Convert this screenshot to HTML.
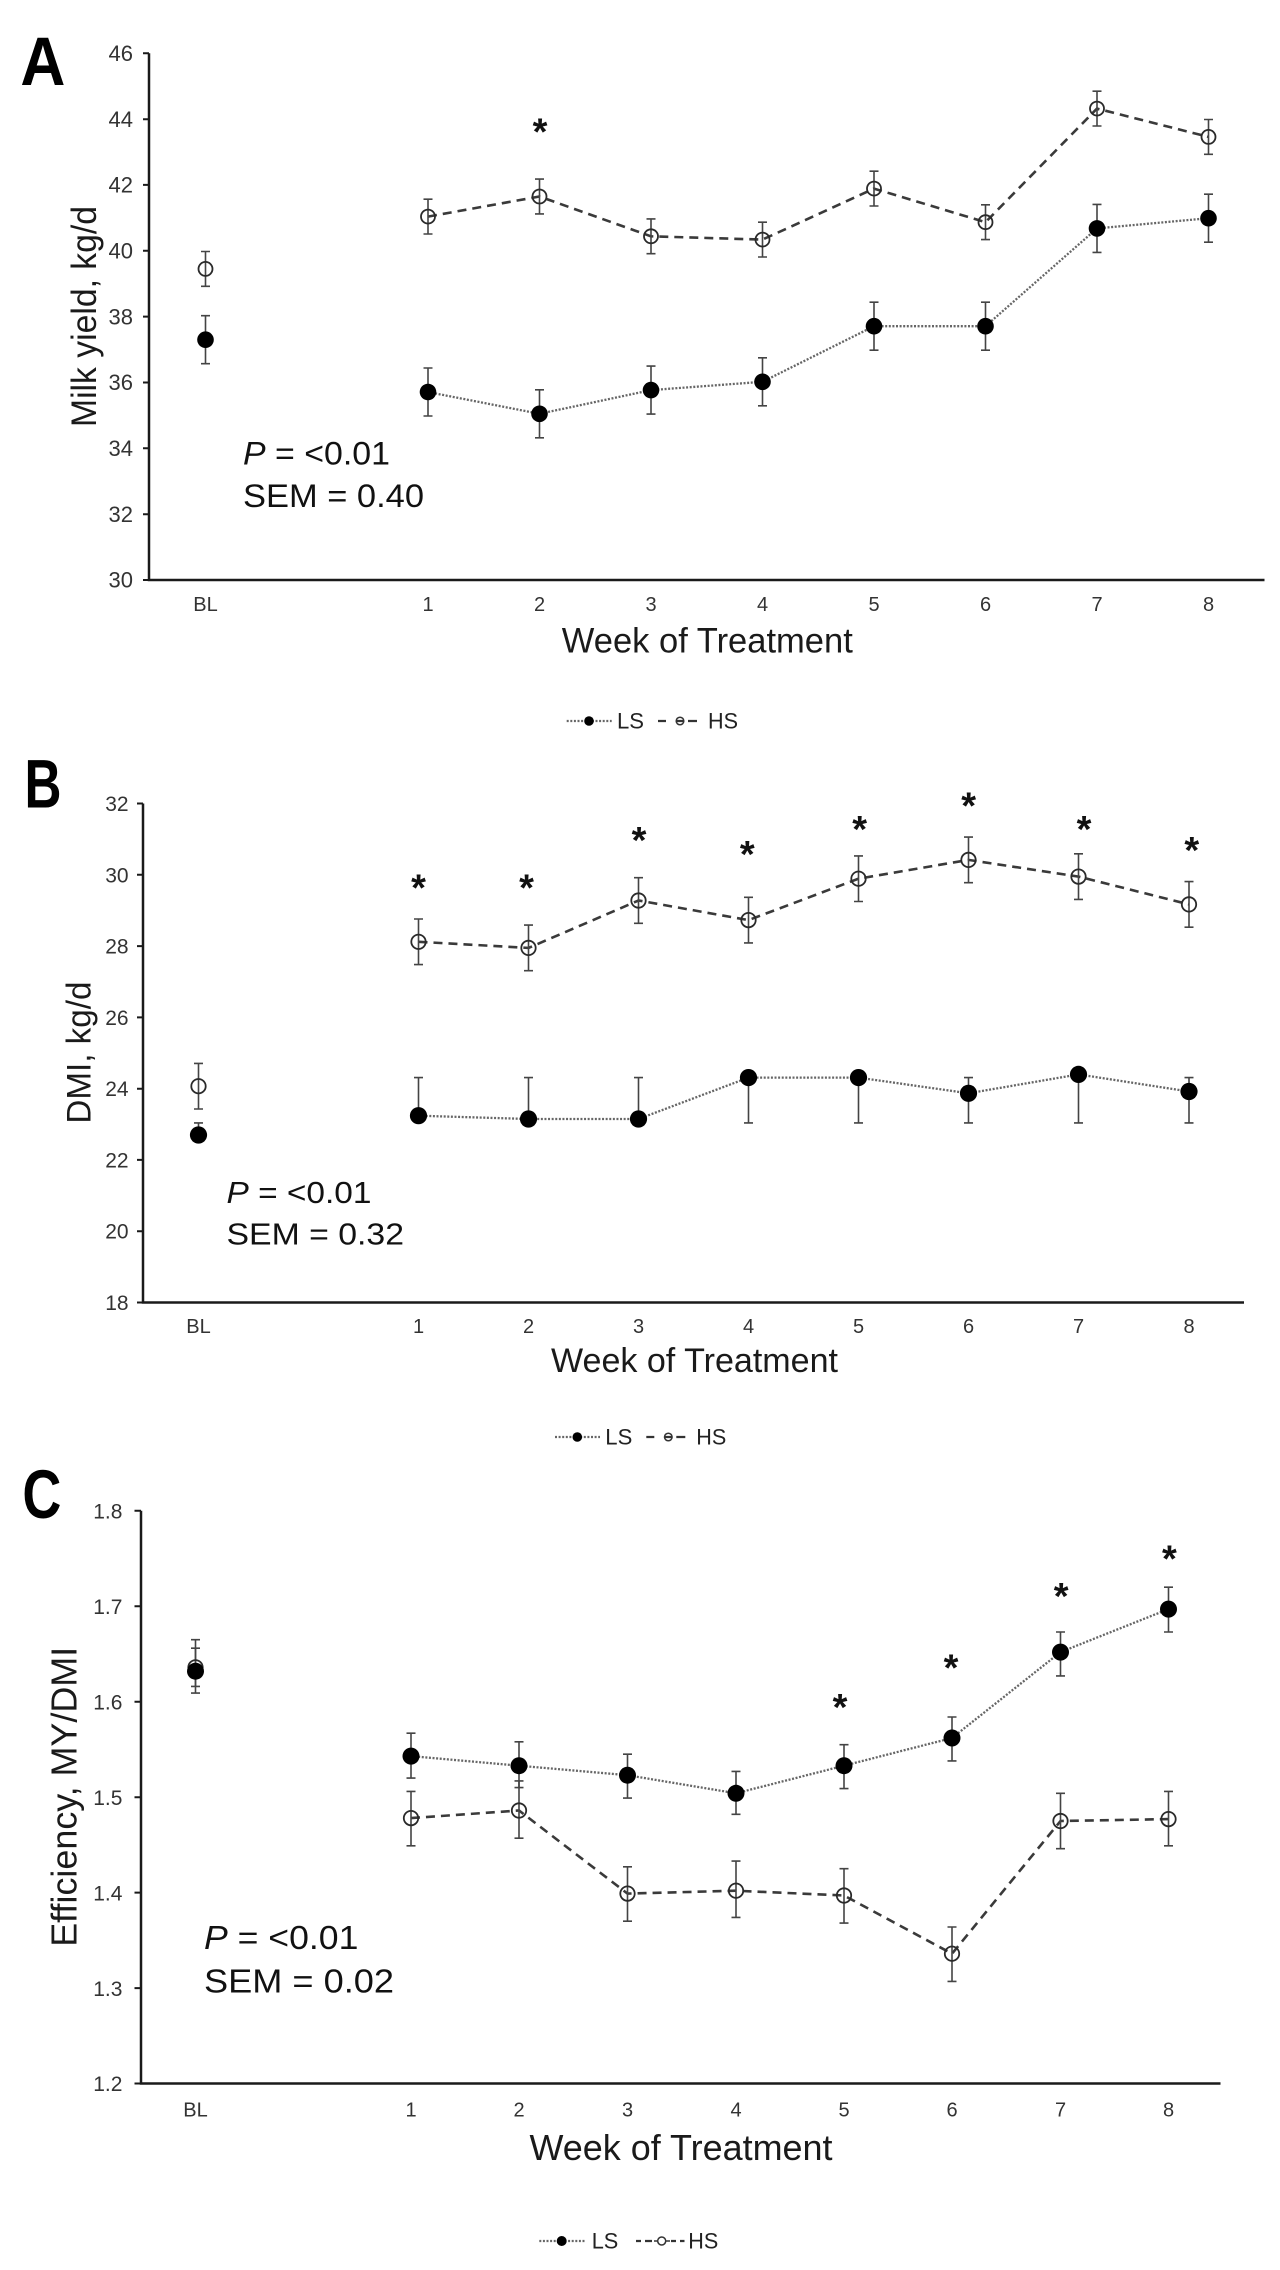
<!DOCTYPE html>
<html>
<head>
<meta charset="utf-8">
<style>
  html,body{margin:0;padding:0;background:#fff;}
  svg{display:block;}
  text{font-family:"Liberation Sans",Arial,sans-serif;}
  .ax{stroke:#1a1a1a;stroke-width:2.5;fill:none;}
  .tk{stroke:#1a1a1a;stroke-width:2;fill:none;}
  .yl{font-size:22px;fill:#333;text-anchor:end;}
  .xl{font-size:20px;fill:#333;text-anchor:middle;}
  .hs{stroke:#3a3a3a;stroke-width:2.6;fill:none;stroke-dasharray:9 6;}
  .ls{stroke:#666;stroke-width:2.3;fill:none;stroke-dasharray:2 1.6;}
  .eb{stroke:#444;stroke-width:1.6;fill:none;}
  .of{fill:none;stroke:#2a2a2a;stroke-width:1.8;}
  .ff{fill:#000;}
  .st{font-size:38px;font-weight:bold;fill:#111;text-anchor:middle;}
  .ann{fill:#111;}
  .ttl{fill:#1a1a1a;}
  .lg{font-size:22px;fill:#222;}
  .pl{font-weight:bold;fill:#000;}
</style>
</head>
<body>
<svg width="1280" height="2270" viewBox="0 0 1280 2270" xmlns="http://www.w3.org/2000/svg">
<rect width="1280" height="2270" fill="#fff"/>

<!-- ================= PANEL A ================= -->
<text class="pl" x="20.4" y="85" font-size="69" textLength="45" lengthAdjust="spacingAndGlyphs">A</text>
<!-- axes -->
<path class="ax" d="M149,53.3 V580 H1264.5"/>
<path class="tk" d="M143,53.3H149 M143,119.2H149 M143,184.9H149 M143,250.8H149 M143,316.6H149 M143,382.5H149 M143,448.3H149 M143,514.2H149 M143,580H149"/>
<g class="yl">
<text x="133" y="61">46</text><text x="133" y="127">44</text><text x="133" y="192.6">42</text>
<text x="133" y="258.5">40</text><text x="133" y="324.3">38</text><text x="133" y="390.2">36</text>
<text x="133" y="456">34</text><text x="133" y="521.9">32</text><text x="133" y="587.7">30</text>
</g>
<g class="xl">
<text x="205.5" y="611">BL</text><text x="428" y="611">1</text><text x="539.5" y="611">2</text>
<text x="651" y="611">3</text><text x="762.5" y="611">4</text><text x="874" y="611">5</text>
<text x="985.5" y="611">6</text><text x="1097" y="611">7</text><text x="1208.5" y="611">8</text>
</g>
<text class="ttl" x="707.3" y="652.7" font-size="35" text-anchor="middle" textLength="291" lengthAdjust="spacingAndGlyphs">Week of Treatment</text>
<text class="ttl" transform="translate(96,316.5) rotate(-90)" x="0" y="0" font-size="35" text-anchor="middle" textLength="221" lengthAdjust="spacingAndGlyphs">Milk yield, kg/d</text>
<text class="ann" x="243" y="464.6" font-size="32" textLength="147" lengthAdjust="spacingAndGlyphs"><tspan font-style="italic">P</tspan> = &lt;0.01</text>
<text class="ann" x="243" y="507" font-size="32" textLength="181" lengthAdjust="spacingAndGlyphs">SEM = 0.40</text>
<!-- series lines -->
<path class="hs" d="M428,216.6 L539.5,196.5 L651,236.3 L762.5,239.6 L874,188.6 L985.5,222.2 L1097,108.6 L1208.5,136.9"/>
<path class="ls" d="M428,392 L539.5,413.8 L651,390.1 L762.5,381.8 L874,326.2 L985.5,326.2 L1097,228.4 L1208.5,218.2"/>
<!-- error bars HS -->
<path class="eb" d="
M205.5,251.5V286.3M201,251.5h9M201,286.3h9
M428,199.2V234M423.5,199.2h9M423.5,234h9
M539.5,179.1V213.9M535,179.1h9M535,213.9h9
M651,218.9V253.7M646.5,218.9h9M646.5,253.7h9
M762.5,222.2V257M758,222.2h9M758,257h9
M874,171.2V206M869.5,171.2h9M869.5,206h9
M985.5,204.8V239.6M981,204.8h9M981,239.6h9
M1097,91.2V126M1092.5,91.2h9M1092.5,126h9
M1208.5,119.5V154.3M1204,119.5h9M1204,154.3h9"/>
<!-- error bars LS -->
<path class="eb" d="
M205.5,315.7V363.7M201,315.7h9M201,363.7h9
M428,368V416M423.5,368h9M423.5,416h9
M539.5,389.8V437.8M535,389.8h9M535,437.8h9
M651,366.1V414.1M646.5,366.1h9M646.5,414.1h9
M762.5,357.8V405.8M758,357.8h9M758,405.8h9
M874,302.2V350.2M869.5,302.2h9M869.5,350.2h9
M985.5,302.2V350.2M981,302.2h9M981,350.2h9
M1097,204.4V252.4M1092.5,204.4h9M1092.5,252.4h9
M1208.5,194.2V242.2M1204,194.2h9M1204,242.2h9"/>
<!-- markers -->
<g class="of">
<circle cx="205.5" cy="268.9" r="7"/><circle cx="428" cy="216.6" r="7"/><circle cx="539.5" cy="196.5" r="7"/>
<circle cx="651" cy="236.3" r="7"/><circle cx="762.5" cy="239.6" r="7"/><circle cx="874" cy="188.6" r="7"/>
<circle cx="985.5" cy="222.2" r="7"/><circle cx="1097" cy="108.6" r="7"/><circle cx="1208.5" cy="136.9" r="7"/>
</g>
<g class="ff">
<circle cx="205.5" cy="339.7" r="8.3"/><circle cx="428" cy="392" r="8.3"/><circle cx="539.5" cy="413.8" r="8.3"/>
<circle cx="651" cy="390.1" r="8.3"/><circle cx="762.5" cy="381.8" r="8.3"/><circle cx="874" cy="326.2" r="8.3"/>
<circle cx="985.5" cy="326.2" r="8.3"/><circle cx="1097" cy="228.4" r="8.3"/><circle cx="1208.5" cy="218.2" r="8.3"/>
</g>
<text class="st" x="540" y="144.6">*</text>
<!-- legend A -->
<path class="ls" d="M566.7,721 H611.7"/>
<circle cx="589" cy="721" r="4.8" fill="#000"/>
<text class="lg" x="617" y="728.6" textLength="27" lengthAdjust="spacingAndGlyphs">LS</text>
<path stroke="#333" stroke-width="2.2" fill="none" d="M658,721H666 M676,721H684 M688,721H697"/>
<circle cx="680" cy="721" r="3.8" fill="none" stroke="#333" stroke-width="1.5"/>
<text class="lg" x="708" y="728.6" textLength="30" lengthAdjust="spacingAndGlyphs">HS</text>

<!-- ================= PANEL B ================= -->
<text class="pl" x="24.5" y="807.4" font-size="69" textLength="37" lengthAdjust="spacingAndGlyphs">B</text>
<path class="ax" d="M143,803.5 V1302.5 H1244"/>
<path class="tk" d="M137,803.5H143 M137,874.8H143 M137,946.1H143 M137,1017.4H143 M137,1088.7H143 M137,1159.9H143 M137,1231.2H143 M137,1302.5H143"/>
<g class="yl" style="font-size:21px">
<text x="128.6" y="811">32</text><text x="128.6" y="882.3">30</text><text x="128.6" y="953.6">28</text>
<text x="128.6" y="1024.9">26</text><text x="128.6" y="1096.2">24</text><text x="128.6" y="1167.4">22</text>
<text x="128.6" y="1238.7">20</text><text x="128.6" y="1310">18</text>
</g>
<g class="xl">
<text x="198.5" y="1333.2">BL</text><text x="418.5" y="1333.2">1</text><text x="528.5" y="1333.2">2</text>
<text x="638.5" y="1333.2">3</text><text x="748.5" y="1333.2">4</text><text x="858.5" y="1333.2">5</text>
<text x="968.5" y="1333.2">6</text><text x="1078.5" y="1333.2">7</text><text x="1189" y="1333.2">8</text>
</g>
<text class="ttl" x="694.5" y="1372" font-size="34" text-anchor="middle" textLength="287" lengthAdjust="spacingAndGlyphs">Week of Treatment</text>
<text class="ttl" transform="translate(90.6,1052.6) rotate(-90)" x="0" y="0" font-size="34" text-anchor="middle" textLength="142" lengthAdjust="spacingAndGlyphs">DMI, kg/d</text>
<text class="ann" x="226.5" y="1202.9" font-size="31" textLength="145" lengthAdjust="spacingAndGlyphs"><tspan font-style="italic">P</tspan> = &lt;0.01</text>
<text class="ann" x="226.5" y="1244.4" font-size="31" textLength="177.5" lengthAdjust="spacingAndGlyphs">SEM = 0.32</text>
<path class="hs" d="M418.5,941.8 L528.5,947.9 L638.5,900.5 L748.5,920.1 L858.5,878.7 L968.5,859.9 L1078.5,876.6 L1189,904.4"/>
<path class="ls" d="M418.5,1115.7 L528.5,1119 L638.5,1119 L748.5,1077.6 L858.5,1077.6 L968.5,1093.3 L1078.5,1074.4 L1189,1091.5"/>
<path class="eb" d="
M198.5,1063.4V1109M194,1063.4h9M194,1109h9
M418.5,919V964.6M414,919h9M414,964.6h9
M528.5,925.1V970.7M524,925.1h9M524,970.7h9
M638.5,877.7V923.3M634,877.7h9M634,923.3h9
M748.5,897.3V942.9M744,897.3h9M744,942.9h9
M858.5,855.9V901.5M854,855.9h9M854,901.5h9
M968.5,837.1V882.7M964,837.1h9M964,882.7h9
M1078.5,853.8V899.4M1074,853.8h9M1074,899.4h9
M1189,881.6V927.2M1184.5,881.6h9M1184.5,927.2h9"/>
<path class="eb" d="
M198.5,1122.9V1135M194,1122.9h9
M418.5,1077.6V1115.7M414,1077.6h9
M528.5,1077.6V1119M524,1077.6h9
M638.5,1077.6V1119M634,1077.6h9
M748.5,1077.6V1122.9M744,1122.9h9
M858.5,1077.6V1122.9M854,1122.9h9
M968.5,1077.6V1122.9M964,1077.6h9M964,1122.9h9
M1078.5,1074.4V1122.9M1074,1122.9h9
M1189,1077.6V1122.9M1184.5,1077.6h9M1184.5,1122.9h9"/>
<g class="of">
<circle cx="198.5" cy="1086.2" r="7.2"/><circle cx="418.5" cy="941.8" r="7.2"/><circle cx="528.5" cy="947.9" r="7.2"/>
<circle cx="638.5" cy="900.5" r="7.2"/><circle cx="748.5" cy="920.1" r="7.2"/><circle cx="858.5" cy="878.7" r="7.2"/>
<circle cx="968.5" cy="859.9" r="7.2"/><circle cx="1078.5" cy="876.6" r="7.2"/><circle cx="1189" cy="904.4" r="7.2"/>
</g>
<g class="ff">
<circle cx="198.5" cy="1135" r="8.6"/><circle cx="418.5" cy="1115.7" r="8.6"/><circle cx="528.5" cy="1119" r="8.6"/>
<circle cx="638.5" cy="1119" r="8.6"/><circle cx="748.5" cy="1077.6" r="8.6"/><circle cx="858.5" cy="1077.6" r="8.6"/>
<circle cx="968.5" cy="1093.3" r="8.6"/><circle cx="1078.5" cy="1074.4" r="8.6"/><circle cx="1189" cy="1091.5" r="8.6"/>
</g>
<g class="st">
<text x="418.5" y="900.6">*</text><text x="526.5" y="900.6">*</text><text x="639" y="853.2">*</text>
<text x="747.3" y="867">*</text><text x="859.6" y="842.1">*</text><text x="968.6" y="818.4">*</text>
<text x="1084" y="842.1">*</text><text x="1191.8" y="863">*</text>
</g>
<!-- legend B -->
<path class="ls" d="M555,1437 H600"/>
<circle cx="577.3" cy="1437" r="4.8" fill="#000"/>
<text class="lg" x="605.3" y="1444.6" textLength="27" lengthAdjust="spacingAndGlyphs">LS</text>
<path stroke="#333" stroke-width="2.2" fill="none" d="M646.3,1437H654.3 M664.3,1437H672.3 M676.3,1437H685.3"/>
<circle cx="668.3" cy="1437" r="3.8" fill="none" stroke="#333" stroke-width="1.5"/>
<text class="lg" x="696.3" y="1444.6" textLength="30" lengthAdjust="spacingAndGlyphs">HS</text>

<!-- ================= PANEL C ================= -->
<text class="pl" x="22.4" y="1518" font-size="69" textLength="39" lengthAdjust="spacingAndGlyphs">C</text>
<path class="ax" d="M141,1510.8 V2083.5 H1220.5"/>
<path class="tk" d="M134.5,1510.8H141 M134.5,1606.3H141 M134.5,1701.7H141 M134.5,1797.2H141 M134.5,1892.6H141 M134.5,1988.1H141 M134.5,2083.5H141"/>
<g class="yl" style="font-size:21px">
<text x="122.4" y="1518.5">1.8</text><text x="122.4" y="1614">1.7</text><text x="122.4" y="1709.4">1.6</text>
<text x="122.4" y="1804.9">1.5</text><text x="122.4" y="1900.3">1.4</text><text x="122.4" y="1995.8">1.3</text>
<text x="122.4" y="2091.2">1.2</text>
</g>
<g class="xl">
<text x="195.5" y="2116.6">BL</text><text x="411" y="2116.6">1</text><text x="519" y="2116.6">2</text>
<text x="627.5" y="2116.6">3</text><text x="736" y="2116.6">4</text><text x="844" y="2116.6">5</text>
<text x="952" y="2116.6">6</text><text x="1060.5" y="2116.6">7</text><text x="1168.5" y="2116.6">8</text>
</g>
<text class="ttl" x="681" y="2160" font-size="36" text-anchor="middle" textLength="303" lengthAdjust="spacingAndGlyphs">Week of Treatment</text>
<text class="ttl" transform="translate(76.7,1796.8) rotate(-90)" x="0" y="0" font-size="36" text-anchor="middle" textLength="300" lengthAdjust="spacingAndGlyphs">Efficiency, MY/DMI</text>
<text class="ann" x="204" y="1949" font-size="33" textLength="154.4" lengthAdjust="spacingAndGlyphs"><tspan font-style="italic">P</tspan> = &lt;0.01</text>
<text class="ann" x="204" y="1992.5" font-size="33" textLength="190" lengthAdjust="spacingAndGlyphs">SEM = 0.02</text>
<path class="hs" d="M411,1818.1 L519,1810.5 L627.5,1893.6 L736,1890.7 L844,1895.5 L952,1953.7 L1060.5,1821 L1168.5,1819.1"/>
<path class="ls" d="M411,1756.1 L519,1765.7 L627.5,1775.2 L736,1793.3 L844,1765.7 L952,1738 L1060.5,1652.1 L1168.5,1609.1"/>
<!-- HS err -->
<path class="eb" d="
M195.5,1648.2V1686.4M191,1648.2h9M191,1686.4h9
M411,1791.4V1845.8M406.5,1791.4h9M406.5,1845.8h9
M519,1780.9V1838.2M514.5,1780.9h9M514.5,1838.2h9
M627.5,1866.8V1921.2M623,1866.8h9M623,1921.2h9
M736,1861.1V1917.4M731.5,1861.1h9M731.5,1917.4h9
M844,1868.7V1923.1M839.5,1868.7h9M839.5,1923.1h9
M952,1927V1981.4M947.5,1927h9M947.5,1981.4h9
M1060.5,1793.3V1848.7M1056,1793.3h9M1056,1848.7h9
M1168.5,1791.4V1845.8M1164,1791.4h9M1164,1845.8h9"/>
<!-- LS err -->
<path class="eb" d="
M195.5,1639.7V1693.1M191,1639.7h9M191,1693.1h9
M411,1733.2V1778.1M406.5,1733.2h9M406.5,1778.1h9
M519,1741.8V1787.6M514.5,1741.8h9M514.5,1787.6h9
M627.5,1754.2V1798.1M623,1754.2h9M623,1798.1h9
M736,1771.4V1814.3M731.5,1771.4h9M731.5,1814.3h9
M844,1744.7V1788.6M839.5,1744.7h9M839.5,1788.6h9
M952,1717V1760.9M947.5,1717h9M947.5,1760.9h9
M1060.5,1632V1675.9M1056,1632h9M1056,1675.9h9
M1168.5,1587.2V1632M1164,1587.2h9M1164,1632h9"/>
<g class="of">
<circle cx="195.5" cy="1667.3" r="7.2"/><circle cx="411" cy="1818.1" r="7.2"/><circle cx="519" cy="1810.5" r="7.2"/>
<circle cx="627.5" cy="1893.6" r="7.2"/><circle cx="736" cy="1890.7" r="7.2"/><circle cx="844" cy="1895.5" r="7.2"/>
<circle cx="952" cy="1953.7" r="7.2"/><circle cx="1060.5" cy="1821" r="7.2"/><circle cx="1168.5" cy="1819.1" r="7.2"/>
</g>
<g class="ff">
<circle cx="195.5" cy="1671.2" r="8.5"/><circle cx="411" cy="1756.1" r="8.5"/><circle cx="519" cy="1765.7" r="8.5"/>
<circle cx="627.5" cy="1775.2" r="8.5"/><circle cx="736" cy="1793.3" r="8.5"/><circle cx="844" cy="1765.7" r="8.5"/>
<circle cx="952" cy="1738" r="8.5"/><circle cx="1060.5" cy="1652.1" r="8.5"/><circle cx="1168.5" cy="1609.1" r="8.5"/>
</g>
<g class="st">
<text x="840" y="1719.9">*</text><text x="951" y="1680.4">*</text>
<text x="1061.2" y="1609.2">*</text><text x="1169.4" y="1571.7">*</text>
</g>
<!-- legend C -->
<path class="ls" d="M539.3,2241 H585"/>
<circle cx="561.7" cy="2241" r="5" fill="#000"/>
<text class="lg" x="591.7" y="2248.7" textLength="26.6" lengthAdjust="spacingAndGlyphs">LS</text>
<path stroke="#333" stroke-width="2.2" fill="none" d="M636,2241H641 M645,2241H652 M671,2241H676 M680,2241H684.5"/>
<path stroke="#333" stroke-width="1.5" fill="none" d="M654,2241H670"/>
<circle cx="661.7" cy="2241" r="4" fill="#fff" stroke="#333" stroke-width="1.5"/>
<text class="lg" x="688.3" y="2248.7" textLength="30" lengthAdjust="spacingAndGlyphs">HS</text>
</svg>
</body>
</html>
